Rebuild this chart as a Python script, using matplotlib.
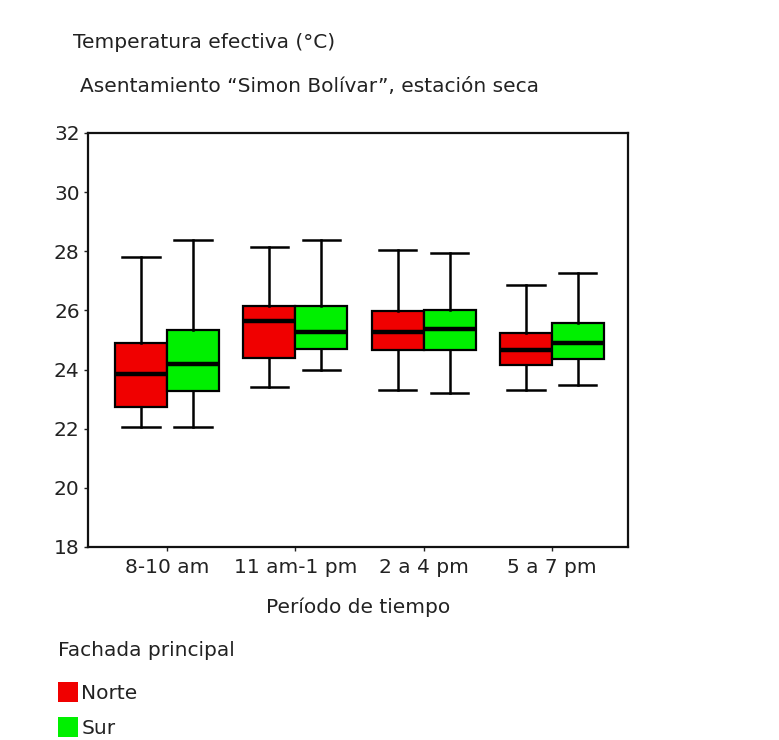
import matplotlib
matplotlib.use("Agg")
import matplotlib.pyplot as plt
from matplotlib.patches import Patch

plt.rcParams['font.family'] = ['DejaVu Sans']

categories = ["8-10 am", "11 am-1 pm", "2 a 4 pm", "5 a 7 pm"]
series = ["Norte", "Sur"]
colors = {"Norte": "#F00000", "Sur": "#00F000"}

# five-number summaries per category
norte_whislo = [22.05, 23.40, 23.31, 23.31]
norte_q1     = [22.73, 24.39, 24.66, 24.14]
norte_med    = [23.85, 25.63, 25.27, 24.66]
norte_q3     = [24.90, 26.16, 25.99, 25.23]
norte_whishi = [27.80, 28.13, 28.04, 26.86]

sur_whislo = [22.05, 24.00, 23.22, 23.47]
sur_q1     = [23.29, 24.69, 24.66, 24.35]
sur_med    = [24.19, 25.27, 25.36, 24.89]
sur_q3     = [25.34, 26.16, 26.00, 25.59]
sur_whishi = [28.38, 28.38, 27.95, 27.26]

yticks = [18, 20, 22, 24, 26, 28, 30, 32]

FS = 14.5
TC = '#222222'

fig = plt.figure(figsize=(7.79, 7.40), dpi=100)
ax = fig.add_axes([88/779, 1-547/740, (628-88)/779, (547-133)/740])

data = {
    "Norte": (norte_whislo, norte_q1, norte_med, norte_q3, norte_whishi),
    "Sur": (sur_whislo, sur_q1, sur_med, sur_q3, sur_whishi),
}
w = 0.405
for k, s in enumerate(series):
    lo, q1, med, q3, hi = data[s]
    stats = []
    for i in range(len(categories)):
        stats.append(dict(whislo=lo[i], q1=q1[i], med=med[i], q3=q3[i],
                          whishi=hi[i], fliers=[]))
    pos = [i + (k - 0.5) * w for i in range(len(categories))]
    ax.bxp(stats, positions=pos, widths=w, patch_artist=True,
           showfliers=False,
           boxprops=dict(facecolor=colors[s], edgecolor="black", linewidth=1.6),
           medianprops=dict(color="black", linewidth=3.2),
           whiskerprops=dict(color="black", linewidth=1.8),
           capprops=dict(color="black", linewidth=1.8),
           capwidths=w * 0.72)

ax.set_xlim(-0.617, 3.594)
ax.set_ylim(18, 32)
ax.set_yticks(yticks)
ax.set_yticklabels([str(t) for t in yticks])
ax.set_xticks(range(len(categories)))
ax.set_xticklabels(categories)
ax.tick_params(axis='both', labelsize=FS, colors=TC, length=3, width=1)
ax.tick_params(axis='y', pad=3)
ax.tick_params(axis='x', pad=5)
for sp in ax.spines.values():
    sp.set_linewidth(1.6)
    sp.set_color("#111111")
ax.set_xlabel("Período de tiempo", fontsize=FS, color=TC, labelpad=15)

fig.text(73/779, 1-42/740, "Temperatura efectiva (°C)", fontsize=FS,
         color=TC, va='center', ha='left')
fig.text(80/779, 1-86/740, "Asentamiento \u201cSimon Bolívar\u201d, estación seca",
         fontsize=FS, color=TC, va='center', ha='left')

handles = [Patch(facecolor=colors[s], edgecolor='none', label=s) for s in series]
leg = fig.legend(handles=handles, title="Fachada principal", loc='upper left',
                 bbox_to_anchor=(58/779, 1-641/740), frameon=False,
                 fontsize=FS, title_fontsize=FS, handlelength=1.0,
                 handleheight=1.1, handletextpad=0.15, labelspacing=0.72,
                 borderaxespad=0, borderpad=0)
leg._legend_box.align = "left"
leg._legend_box.sep = 16
for t in leg.get_texts():
    t.set_color(TC)
leg.get_title().set_color(TC)

fig.savefig("out.png", dpi=100)
